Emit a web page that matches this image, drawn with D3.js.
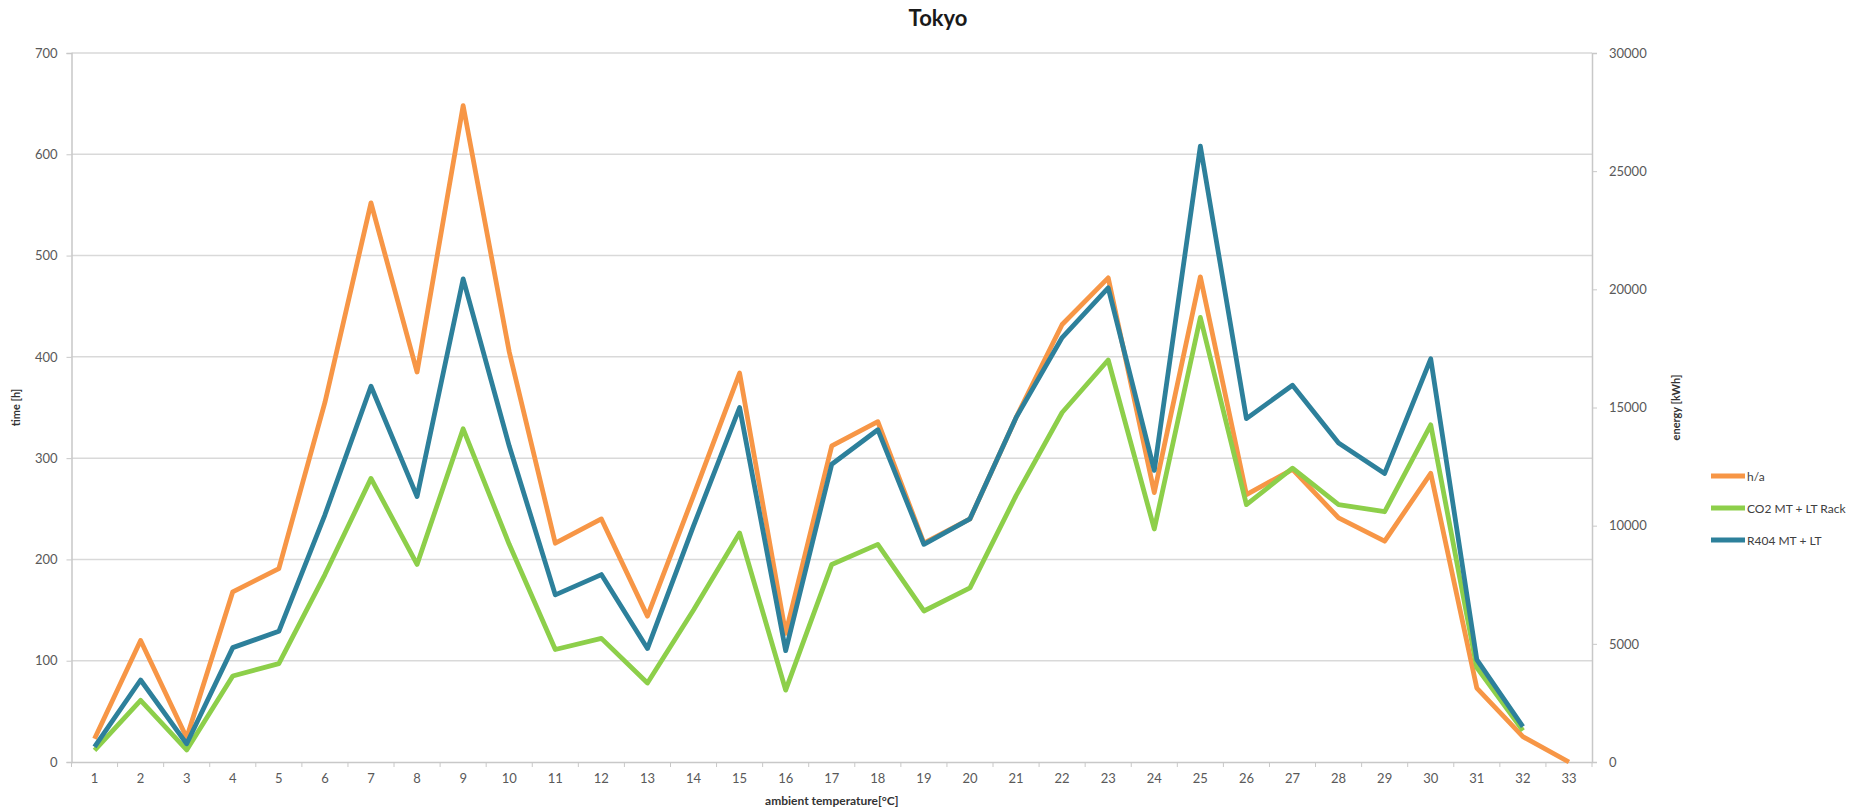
<!DOCTYPE html>
<html>
<head>
<meta charset="utf-8">
<script src="https://cdn.jsdelivr.net/npm/d3@7"></script>
<style>
  html, body { margin: 0; padding: 0; background: #fff; }
  svg { display: block; }
  text { font-family: "Lato", "Open Sans", "Liberation Sans", sans-serif; }
</style>
</head>
<body>
<svg id="chart" width="1876" height="810"></svg>
<script>
// ---------- data ----------
const categories = ["1","2","3","4","5","6","7","8","9","10","11","12","13","14","15","16","17","18","19","20","21","22","23","24","25","26","27","28","29","30","31","32","33"];

// hours per annum (left axis, time [h])
const hoursPerAnnum = [23,120,24,168,191,355,552,385,648,405,216,240,144,263,384,127,312,336,216,240,340,432,478,266,479,264,289,241,218,285,73,25,0];

// energy [kWh] (right axis)
const co2Rack = [490,2610,510,3640,4160,7930,12000,8360,14100,9210,4760,5230,3340,6430,9690,3040,8360,9210,6390,7370,11270,14790,17010,9860,18810,10890,12430,10890,10590,14270,3990,1330,null];
const r404 = [640,3470,770,4840,5530,10460,15900,11230,20440,13370,7070,7930,4800,9990,15000,4710,12600,14060,9210,10290,14570,17960,20060,12340,26060,14530,15940,13500,12210,17060,4330,1500,null];

const leftTicks = [0,100,200,300,400,500,600,700];
const rightTicks = [0,5000,10000,15000,20000,25000,30000];

const seriesNames = ["h/a", "CO2 MT + LT Rack", "R404 MT + LT"];
const seriesColors = ["#F79646", "#8DCF4A", "#2D809B"];

// ---------- layout ----------
const svg = d3.select("#chart");
const plot = { left: 71.5, right: 1592, top: 53, bottom: 762 };

const x = d3.scaleBand().domain(categories).range([plot.left, plot.right]).paddingInner(0).paddingOuter(0);
const yL = d3.scaleLinear().domain([0, 700]).range([plot.bottom, plot.top]);
const yR = d3.scaleLinear().domain([0, 30000]).range([plot.bottom, plot.top]);
const cx = c => x(c) + x.bandwidth() / 2;

// gridlines
svg.append("g")
  .selectAll("line")
  .data(leftTicks.filter(d => d > 0))
  .join("line")
  .attr("x1", plot.left).attr("x2", plot.right)
  .attr("y1", d => yL(d)).attr("y2", d => yL(d))
  .attr("stroke", "#d9d9d9").attr("stroke-width", 1.5);

// left axis
const gL = svg.append("g").attr("transform", `translate(${plot.left},0)`)
  .call(d3.axisLeft(yL).tickValues(leftTicks).tickFormat(d3.format("d")).tickSize(5).tickPadding(9));
gL.select(".domain").attr("stroke", "#c8c8c8").attr("stroke-width", 1.5);
gL.selectAll(".tick line").attr("stroke", "#c8c8c8");
gL.selectAll(".tick text").attr("fill", "#595959").style("font-size", "13px");

// right axis
const gR = svg.append("g").attr("transform", `translate(${plot.right},0)`)
  .call(d3.axisRight(yR).tickValues(rightTicks).tickFormat(d3.format("d")).tickSize(5).tickPadding(12));
gR.select(".domain").attr("stroke", "#c8c8c8").attr("stroke-width", 1.5);
gR.selectAll(".tick line").attr("stroke", "#c8c8c8");
gR.selectAll(".tick text").attr("fill", "#595959").style("font-size", "13px");

// bottom axis
const gB = svg.append("g").attr("transform", `translate(0,${plot.bottom})`)
  .call(d3.axisBottom(x).tickSize(0).tickPadding(12));
gB.select(".domain").attr("stroke", "#c8c8c8").attr("stroke-width", 1.5);
gB.selectAll(".tick text").attr("fill", "#595959").style("font-size", "13px");
// tick marks between categories
gB.append("g").selectAll("line")
  .data(categories)
  .join("line")
  .attr("x1", d => x(d)).attr("x2", d => x(d))
  .attr("y1", 0).attr("y2", 5)
  .attr("stroke", "#c8c8c8");
gB.append("line")
  .attr("x1", plot.right).attr("x2", plot.right).attr("y1", 0).attr("y2", 5)
  .attr("stroke", "#c8c8c8");

// lines
const lineL = d3.line().defined(d => d.v !== null).x(d => cx(d.c)).y(d => yL(d.v));
const lineR = d3.line().defined(d => d.v !== null).x(d => cx(d.c)).y(d => yR(d.v));
const toPts = arr => categories.map((c, i) => ({ c, v: arr[i] }));

svg.append("path").datum(toPts(hoursPerAnnum)).attr("d", lineL)
  .attr("fill", "none").attr("stroke", seriesColors[0]).attr("stroke-width", 4.8).attr("stroke-linejoin", "round");
svg.append("path").datum(toPts(co2Rack)).attr("d", lineR)
  .attr("fill", "none").attr("stroke", seriesColors[1]).attr("stroke-width", 4.8).attr("stroke-linejoin", "round");
svg.append("path").datum(toPts(r404)).attr("d", lineR)
  .attr("fill", "none").attr("stroke", seriesColors[2]).attr("stroke-width", 4.8).attr("stroke-linejoin", "round");

// title
svg.append("text").attr("x", 938).attr("y", 26).attr("text-anchor", "middle")
  .style("font-size", "22px").style("font-weight", "bold").attr("fill", "#1a1a1a").text("Tokyo");

// axis titles
svg.append("text").attr("transform", `translate(20,${(plot.top + plot.bottom) / 2}) rotate(-90)`)
  .attr("text-anchor", "middle").style("font-size", "11px").style("font-weight", "bold").attr("fill", "#333").text("time [h]");
svg.append("text").attr("transform", `translate(1680,${(plot.top + plot.bottom) / 2}) rotate(-90)`)
  .attr("text-anchor", "middle").style("font-size", "11px").style("font-weight", "bold").attr("fill", "#333").text("energy [kWh]");
svg.append("text").attr("x", (plot.left + plot.right) / 2).attr("y", 805).attr("text-anchor", "middle")
  .style("font-size", "12px").style("font-weight", "bold").attr("fill", "#333").text("ambient temperature[°C]");

// legend
const legend = svg.append("g").attr("transform", "translate(1711,476)");
seriesNames.forEach((name, i) => {
  const g = legend.append("g").attr("transform", `translate(0,${i * 32})`);
  g.append("line").attr("x1", 0).attr("x2", 34).attr("y1", 0).attr("y2", 0)
    .attr("stroke", seriesColors[i]).attr("stroke-width", 4.8);
  g.append("text").attr("x", 36).attr("y", 4.5).style("font-size", "12px").attr("fill", "#404040").text(name);
});
</script>
</body>
</html>
